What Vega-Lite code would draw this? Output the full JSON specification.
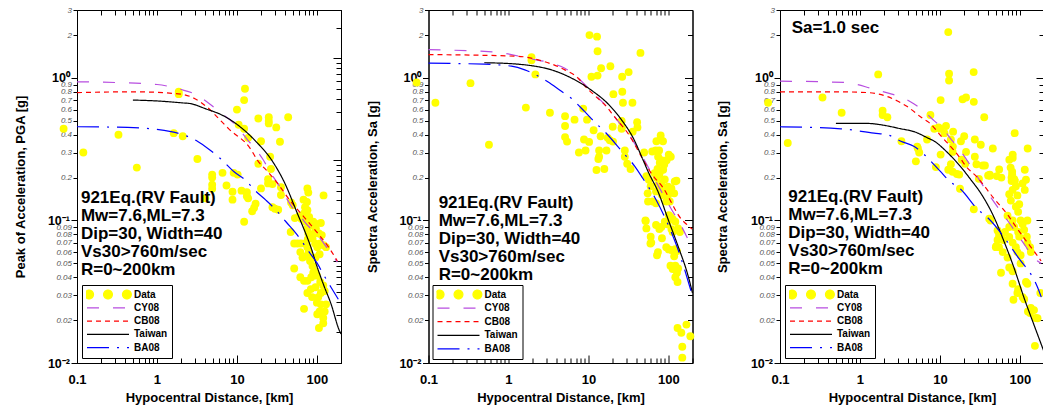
{
"$schema":"https://vega.github.io/schema/vega-lite/v6.json",
"padding":{"left":13,"top":5,"right":0,"bottom":0},
"background":"white",
"bounds":"flush",
"spacing":87.5,
"config":{"view":{"stroke":"black","strokeWidth":1},"axis":{"grid":false,"domainColor":"black","tickColor":"black","domainWidth":1,"tickWidth":1,"labelFont":"Liberation Sans","titleFont":"Liberation Sans","titleColor":"black"},"text":{"font":"Liberation Sans"},"legend":{"strokeColor":"#000000","fillColor":"#ffffff","strokeWidth":1,"padding":4,"cornerRadius":0}},
"resolve":{"scale":{"color":"independent","strokeDash":"independent"},"legend":{"color":"independent"}},
"datasets":{
"pts1":[{"x":0.068,"y":0.44},{"x":0.12,"y":0.30},{"x":0.33,"y":0.40},{"x":0.56,"y":0.235},{"x":1.87,"y":0.80},{"x":1.87,"y":0.77},{"x":1.62,"y":0.41},{"x":2.1,"y":0.39},{"x":3.2,"y":0.27},{"x":4.0,"y":0.143},{"x":4.9,"y":0.21},{"x":4.9,"y":0.2},{"x":4.9,"y":0.178},{"x":4.9,"y":0.167},{"x":6.6,"y":0.216},{"x":7.4,"y":0.176},{"x":8.8,"y":0.159},{"x":8.8,"y":0.14},{"x":9.1,"y":0.216},{"x":10.2,"y":0.21},{"x":10,"y":0.6},{"x":10.5,"y":0.47},{"x":12.3,"y":0.44},{"x":11.4,"y":0.162},{"x":12.6,"y":0.84},{"x":12.3,"y":0.70},{"x":13.3,"y":0.158},{"x":13.3,"y":0.148},{"x":13.8,"y":0.143},{"x":13.8,"y":0.38},{"x":15.5,"y":0.116},{"x":16.4,"y":0.123},{"x":17.1,"y":0.131},{"x":18.5,"y":0.52},{"x":18.5,"y":0.25},{"x":20,"y":0.36},{"x":20,"y":0.168},{"x":12.3,"y":0.098},{"x":24.5,"y":0.195},{"x":24.5,"y":0.182},{"x":25,"y":0.53},{"x":25,"y":0.5},{"x":25,"y":0.48},{"x":26,"y":0.28},{"x":26.6,"y":0.23},{"x":27.8,"y":0.18},{"x":27.8,"y":0.124},{"x":29.8,"y":0.121},{"x":31,"y":0.45},{"x":32.8,"y":0.119},{"x":34.5,"y":0.357},{"x":35.5,"y":0.171},{"x":35.5,"y":0.151},{"x":43.7,"y":0.53},{"x":47.5,"y":0.134},{"x":49.8,"y":0.128},{"x":53,"y":0.104},{"x":60,"y":0.107},{"x":64,"y":0.103},{"x":68,"y":0.14},{"x":71,"y":0.124},{"x":72,"y":0.109},{"x":75,"y":0.135},{"x":76,"y":0.168},{"x":76,"y":0.118},{"x":78,"y":0.157},{"x":80,"y":0.106},{"x":96,"y":0.095},{"x":112,"y":0.096},{"x":121,"y":0.15},{"x":121,"y":0.067},{"x":115,"y":0.079},{"x":47,"y":0.083},{"x":52,"y":0.069},{"x":63,"y":0.106},{"x":69,"y":0.112},{"x":73,"y":0.098},{"x":76,"y":0.088},{"x":78,"y":0.081},{"x":77,"y":0.074},{"x":72,"y":0.069},{"x":76,"y":0.065},{"x":79,"y":0.06},{"x":69,"y":0.056},{"x":84,"y":0.055},{"x":90,"y":0.098},{"x":97,"y":0.088},{"x":92,"y":0.081},{"x":95,"y":0.069},{"x":101,"y":0.065},{"x":96,"y":0.055},{"x":106,"y":0.081},{"x":110,"y":0.069},{"x":108,"y":0.058},{"x":63,"y":0.069},{"x":57,"y":0.069},{"x":62,"y":0.06},{"x":66,"y":0.055},{"x":52,"y":0.046},{"x":62,"y":0.04},{"x":69,"y":0.0377},{"x":76,"y":0.0377},{"x":85,"y":0.04},{"x":90,"y":0.043},{"x":95,"y":0.044},{"x":100,"y":0.041},{"x":110,"y":0.037},{"x":120,"y":0.035},{"x":125,"y":0.032},{"x":112,"y":0.031},{"x":96,"y":0.034},{"x":84,"y":0.033},{"x":76,"y":0.031},{"x":87,"y":0.029},{"x":104,"y":0.029},{"x":100,"y":0.0265},{"x":112,"y":0.0258},{"x":130,"y":0.0258},{"x":125,"y":0.023},{"x":108,"y":0.023},{"x":101,"y":0.022},{"x":120,"y":0.0207},{"x":120,"y":0.019},{"x":106,"y":0.0176},{"x":69,"y":0.024},{"x":130,"y":0.065},{"x":84,"y":0.092},{"x":88,"y":0.075},{"x":82,"y":0.052},{"x":88,"y":0.048}],
"pts2":[{"x":0.071,"y":0.93},{"x":0.122,"y":0.67},{"x":0.335,"y":0.92},{"x":0.57,"y":0.34},{"x":1.94,"y":1.4},{"x":1.94,"y":1.33},{"x":2.17,"y":1.06},{"x":1.65,"y":0.62},{"x":3.3,"y":0.57},{"x":10.3,"y":2.0},{"x":12.8,"y":1.95},{"x":13,"y":1.54},{"x":44.7,"y":1.5},{"x":14.4,"y":1.17},{"x":18.8,"y":1.21},{"x":10.9,"y":1.02},{"x":13,"y":1.04},{"x":26.4,"y":1.02},{"x":31.8,"y":1.1},{"x":20.5,"y":0.77},{"x":26.5,"y":0.8},{"x":27,"y":0.67},{"x":35.5,"y":0.67},{"x":8.6,"y":0.61},{"x":5.1,"y":0.54},{"x":5.1,"y":0.46},{"x":6.7,"y":0.51},{"x":9.6,"y":0.51},{"x":5.1,"y":0.385},{"x":5.4,"y":0.358},{"x":11.6,"y":0.43},{"x":14.2,"y":0.39},{"x":8.8,"y":0.37},{"x":10.2,"y":0.356},{"x":20.1,"y":0.455},{"x":26,"y":0.5},{"x":26,"y":0.45},{"x":26,"y":0.44},{"x":40.6,"y":0.49},{"x":41,"y":0.45},{"x":35.7,"y":0.42},{"x":17.4,"y":0.38},{"x":18.5,"y":0.366},{"x":20.3,"y":0.358},{"x":7.6,"y":0.30},{"x":9.2,"y":0.31},{"x":13.6,"y":0.31},{"x":16.8,"y":0.31},{"x":13.6,"y":0.28},{"x":13.3,"y":0.27},{"x":28.5,"y":0.31},{"x":28.5,"y":0.28},{"x":30.5,"y":0.25},{"x":33.6,"y":0.23},{"x":12.6,"y":0.226},{"x":15.8,"y":0.23},{"x":49.7,"y":0.30},{"x":62.7,"y":0.305},{"x":69.4,"y":0.31},{"x":76.5,"y":0.31},{"x":70.8,"y":0.36},{"x":80,"y":0.395},{"x":80,"y":0.37},{"x":85.5,"y":0.36},{"x":74.3,"y":0.28},{"x":81.6,"y":0.265},{"x":78,"y":0.254},{"x":101,"y":0.29},{"x":107,"y":0.28},{"x":95,"y":0.265},{"x":88.7,"y":0.247},{"x":73,"y":0.23},{"x":78,"y":0.22},{"x":86,"y":0.227},{"x":53,"y":0.205},{"x":57,"y":0.193},{"x":55,"y":0.155},{"x":60,"y":0.174},{"x":67,"y":0.215},{"x":72,"y":0.199},{"x":77,"y":0.21},{"x":81.6,"y":0.183},{"x":86,"y":0.168},{"x":90,"y":0.194},{"x":94,"y":0.163},{"x":99,"y":0.173},{"x":75,"y":0.178},{"x":70,"y":0.16},{"x":83,"y":0.151},{"x":99,"y":0.151},{"x":104,"y":0.136},{"x":109,"y":0.168},{"x":118,"y":0.155},{"x":120,"y":0.188},{"x":126,"y":0.19},{"x":55.6,"y":0.136},{"x":64,"y":0.136},{"x":70,"y":0.132},{"x":94,"y":0.136},{"x":101,"y":0.109},{"x":106,"y":0.106},{"x":113,"y":0.102},{"x":122,"y":0.098},{"x":132,"y":0.088},{"x":139,"y":0.083},{"x":90,"y":0.098},{"x":97,"y":0.094},{"x":81.6,"y":0.09},{"x":109,"y":0.087},{"x":113,"y":0.083},{"x":77,"y":0.087},{"x":70,"y":0.093},{"x":52,"y":0.099},{"x":53,"y":0.088},{"x":60,"y":0.077},{"x":61,"y":0.07},{"x":72,"y":0.057},{"x":83,"y":0.075},{"x":94,"y":0.065},{"x":101,"y":0.0627},{"x":109,"y":0.062},{"x":122,"y":0.063},{"x":128,"y":0.061},{"x":118,"y":0.0561},{"x":106,"y":0.0482},{"x":113,"y":0.0456},{"x":122,"y":0.0482},{"x":132,"y":0.046},{"x":128,"y":0.043},{"x":130,"y":0.037},{"x":122,"y":0.04},{"x":130,"y":0.0176},{"x":168,"y":0.0186},{"x":145,"y":0.0163},{"x":149,"y":0.013},{"x":149,"y":0.0109},{"x":188,"y":0.0154},{"x":51.6,"y":0.1},{"x":59.6,"y":0.069},{"x":74,"y":0.06}],
"pts3":[{"x":0.071,"y":0.67},{"x":0.125,"y":0.35},{"x":0.34,"y":0.73},{"x":0.59,"y":0.57},{"x":1.69,"y":1.06},{"x":1.92,"y":0.59},{"x":1.92,"y":0.55},{"x":2.2,"y":0.53},{"x":3.3,"y":0.36},{"x":5.2,"y":0.33},{"x":5.3,"y":0.32},{"x":5.5,"y":0.30},{"x":5.0,"y":0.26},{"x":6.9,"y":0.37},{"x":7.6,"y":0.55},{"x":8.5,"y":0.44},{"x":9.6,"y":0.45},{"x":10.1,"y":0.44},{"x":8.9,"y":0.237},{"x":10.2,"y":0.29},{"x":10.2,"y":0.70},{"x":12.7,"y":2.1},{"x":13,"y":1.07},{"x":13,"y":0.96},{"x":26.4,"y":1.1},{"x":11.9,"y":0.46},{"x":19.2,"y":0.71},{"x":21.2,"y":0.73},{"x":26.5,"y":0.68},{"x":35.8,"y":0.53},{"x":86,"y":0.41},{"x":125,"y":0.32},{"x":45.8,"y":0.32},{"x":11.4,"y":0.41},{"x":14.6,"y":0.42},{"x":13.7,"y":0.37},{"x":14.5,"y":0.33},{"x":14.4,"y":0.303},{"x":18.3,"y":0.36},{"x":20.1,"y":0.39},{"x":27.3,"y":0.37},{"x":32.4,"y":0.34},{"x":21.2,"y":0.303},{"x":27.3,"y":0.28},{"x":20.7,"y":0.25},{"x":18.7,"y":0.267},{"x":13.7,"y":0.248},{"x":12.7,"y":0.227},{"x":14.4,"y":0.22},{"x":16.3,"y":0.212},{"x":17.4,"y":0.21},{"x":28.6,"y":0.248},{"x":34.3,"y":0.243},{"x":36.5,"y":0.243},{"x":42.3,"y":0.206},{"x":51.4,"y":0.205},{"x":55,"y":0.228},{"x":73.7,"y":0.267},{"x":81.2,"y":0.29},{"x":81.2,"y":0.275},{"x":76.5,"y":0.235},{"x":80,"y":0.22},{"x":80,"y":0.21},{"x":115,"y":0.227},{"x":58.6,"y":0.2},{"x":78.6,"y":0.2},{"x":86.4,"y":0.19},{"x":17.8,"y":0.167},{"x":26.5,"y":0.12},{"x":41.3,"y":0.103},{"x":78.7,"y":0.189},{"x":85,"y":0.195},{"x":89,"y":0.174},{"x":73.5,"y":0.153},{"x":81,"y":0.164},{"x":93,"y":0.15},{"x":77,"y":0.138},{"x":89,"y":0.125},{"x":98,"y":0.13},{"x":108,"y":0.182},{"x":115,"y":0.164},{"x":119,"y":0.193},{"x":95,"y":0.115},{"x":102,"y":0.1},{"x":81,"y":0.1},{"x":70,"y":0.108},{"x":73.5,"y":0.09},{"x":85,"y":0.09},{"x":95,"y":0.083},{"x":98,"y":0.077},{"x":113,"y":0.086},{"x":122,"y":0.077},{"x":108,"y":0.094},{"x":124,"y":0.1},{"x":134,"y":0.065},{"x":137,"y":0.06},{"x":124,"y":0.07},{"x":89,"y":0.065},{"x":81,"y":0.07},{"x":73.5,"y":0.0766},{"x":65,"y":0.083},{"x":58,"y":0.077},{"x":50,"y":0.065},{"x":52.5,"y":0.073},{"x":61,"y":0.06},{"x":70,"y":0.055},{"x":73.5,"y":0.0468},{"x":81,"y":0.044},{"x":93,"y":0.06},{"x":102,"y":0.057},{"x":102,"y":0.05},{"x":119,"y":0.037},{"x":124,"y":0.036},{"x":93,"y":0.031},{"x":108,"y":0.029},{"x":113,"y":0.028},{"x":137,"y":0.0243},{"x":150,"y":0.0235},{"x":158,"y":0.0207},{"x":134,"y":0.0224},{"x":154,"y":0.0132},{"x":95,"y":0.033},{"x":55,"y":0.076},{"x":83,"y":0.0278},{"x":126,"y":0.023},{"x":180,"y":0.031},{"x":166,"y":0.0206},{"x":58,"y":0.043},{"x":81,"y":0.036},{"x":50.6,"y":0.066},{"x":54.7,"y":0.065},{"x":43,"y":0.1},{"x":52.5,"y":0.085},{"x":55,"y":0.08},{"x":62,"y":0.073},{"x":40,"y":0.207},{"x":42,"y":0.21},{"x":30.7,"y":0.196}],
"cur1":[{"model":"CY08","x":0.1,"y":0.94},{"model":"CY08","x":0.3,"y":0.93},{"model":"CY08","x":1,"y":0.9},{"model":"CY08","x":2,"y":0.83},{"model":"CY08","x":3,"y":0.77},{"model":"CY08","x":4.7,"y":0.65},{"model":"CY08","x":6,"y":0.58},{"model":"CY08","x":8.8,"y":0.49},{"model":"CY08","x":13.5,"y":0.37},{"model":"CY08","x":21,"y":0.27},{"model":"CY08","x":26.6,"y":0.215},{"model":"CY08","x":35,"y":0.17},{"model":"CY08","x":50,"y":0.122},{"model":"CY08","x":60,"y":0.109},{"model":"CY08","x":80,"y":0.09},{"model":"CY08","x":100,"y":0.08},{"model":"CY08","x":140,"y":0.062},{"model":"CY08","x":180,"y":0.051},
{"model":"CB08","x":0.1,"y":0.79},{"model":"CB08","x":0.52,"y":0.8},{"model":"CB08","x":2,"y":0.77},{"model":"CB08","x":4.3,"y":0.62},{"model":"CB08","x":6.3,"y":0.5},{"model":"CB08","x":7.9,"y":0.44},{"model":"CB08","x":14.9,"y":0.316},{"model":"CB08","x":18,"y":0.265},{"model":"CB08","x":24.3,"y":0.22},{"model":"CB08","x":32,"y":0.183},{"model":"CB08","x":47.5,"y":0.135},{"model":"CB08","x":63,"y":0.112},{"model":"CB08","x":96,"y":0.085},{"model":"CB08","x":140,"y":0.065},{"model":"CB08","x":180,"y":0.052},
{"model":"Taiwan","x":0.5,"y":0.70},{"model":"Taiwan","x":1,"y":0.69},{"model":"Taiwan","x":2,"y":0.67},{"model":"Taiwan","x":2.66,"y":0.66},{"model":"Taiwan","x":4,"y":0.61},{"model":"Taiwan","x":6.9,"y":0.54},{"model":"Taiwan","x":11.2,"y":0.45},{"model":"Taiwan","x":18,"y":0.35},{"model":"Taiwan","x":26.6,"y":0.27},{"model":"Taiwan","x":39.6,"y":0.183},{"model":"Taiwan","x":57,"y":0.112},{"model":"Taiwan","x":70,"y":0.085},{"model":"Taiwan","x":84,"y":0.065},{"model":"Taiwan","x":101,"y":0.047},{"model":"Taiwan","x":122,"y":0.035},{"model":"Taiwan","x":150,"y":0.026},{"model":"Taiwan","x":190,"y":0.017},{"model":"Taiwan","x":200,"y":0.016},
{"model":"BA08","x":0.1,"y":0.455},{"model":"BA08","x":0.43,"y":0.45},{"model":"BA08","x":1.5,"y":0.42},{"model":"BA08","x":3.2,"y":0.36},{"model":"BA08","x":4.5,"y":0.315},{"model":"BA08","x":6.3,"y":0.27},{"model":"BA08","x":9.2,"y":0.22},{"model":"BA08","x":13,"y":0.19},{"model":"BA08","x":17.3,"y":0.16},{"model":"BA08","x":23,"y":0.139},{"model":"BA08","x":31,"y":0.118},{"model":"BA08","x":41,"y":0.098},{"model":"BA08","x":57,"y":0.079},{"model":"BA08","x":80,"y":0.06},{"model":"BA08","x":101,"y":0.05},{"model":"BA08","x":123,"y":0.041},{"model":"BA08","x":150,"y":0.034},{"model":"BA08","x":185,"y":0.028}],
"cur2":[{"model":"CY08","x":0.1,"y":1.58},{"model":"CY08","x":0.67,"y":1.52},{"model":"CY08","x":1.94,"y":1.36},{"model":"CY08","x":3.45,"y":1.27},{"model":"CY08","x":5.06,"y":1.17},{"model":"CY08","x":7.4,"y":1.0},{"model":"CY08","x":9,"y":0.9},{"model":"CY08","x":13.1,"y":0.73},{"model":"CY08","x":16.8,"y":0.63},{"model":"CY08","x":20.3,"y":0.55},{"model":"CY08","x":32.8,"y":0.39},{"model":"CY08","x":41.5,"y":0.32},{"model":"CY08","x":53,"y":0.25},{"model":"CY08","x":69,"y":0.19},{"model":"CY08","x":109,"y":0.12},{"model":"CY08","x":132,"y":0.1},{"model":"CY08","x":150,"y":0.088},{"model":"CY08","x":195,"y":0.065},
{"model":"CB08","x":0.1,"y":1.46},{"model":"CB08","x":1.32,"y":1.42},{"model":"CB08","x":2.35,"y":1.34},{"model":"CB08","x":5.06,"y":1.14},{"model":"CB08","x":7.4,"y":1.0},{"model":"CB08","x":9,"y":0.88},{"model":"CB08","x":13.1,"y":0.72},{"model":"CB08","x":16.8,"y":0.63},{"model":"CB08","x":20.3,"y":0.55},{"model":"CB08","x":34,"y":0.38},{"model":"CB08","x":46,"y":0.28},{"model":"CB08","x":62.5,"y":0.21},{"model":"CB08","x":85.6,"y":0.17},{"model":"CB08","x":118,"y":0.123},{"model":"CB08","x":132,"y":0.11},{"model":"CB08","x":176,"y":0.092},{"model":"CB08","x":198,"y":0.087},
{"model":"Taiwan","x":0.5,"y":1.28},{"model":"Taiwan","x":1.32,"y":1.25},{"model":"Taiwan","x":1.94,"y":1.22},{"model":"Taiwan","x":3.45,"y":1.14},{"model":"Taiwan","x":6.1,"y":1.0},{"model":"Taiwan","x":10.9,"y":0.82},{"model":"Taiwan","x":17.5,"y":0.66},{"model":"Taiwan","x":25.8,"y":0.51},{"model":"Taiwan","x":36.2,"y":0.38},{"model":"Taiwan","x":48.3,"y":0.265},{"model":"Taiwan","x":55.8,"y":0.22},{"model":"Taiwan","x":74.6,"y":0.158},{"model":"Taiwan","x":99,"y":0.102},{"model":"Taiwan","x":132,"y":0.066},{"model":"Taiwan","x":176,"y":0.041},{"model":"Taiwan","x":200,"y":0.031},
{"model":"BA08","x":0.1,"y":1.27},{"model":"BA08","x":0.5,"y":1.25},{"model":"BA08","x":1.09,"y":1.21},{"model":"BA08","x":1.6,"y":1.14},{"model":"BA08","x":3.1,"y":0.94},{"model":"BA08","x":4.4,"y":0.82},{"model":"BA08","x":6.1,"y":0.72},{"model":"BA08","x":9,"y":0.58},{"model":"BA08","x":12,"y":0.49},{"model":"BA08","x":16,"y":0.42},{"model":"BA08","x":27,"y":0.3},{"model":"BA08","x":38,"y":0.24},{"model":"BA08","x":48,"y":0.197},{"model":"BA08","x":70,"y":0.14},{"model":"BA08","x":94,"y":0.1},{"model":"BA08","x":130,"y":0.064},{"model":"BA08","x":195,"y":0.031}],
"cur3":[{"model":"CY08","x":0.1,"y":0.95},{"model":"CY08","x":0.64,"y":0.93},{"model":"CY08","x":1.44,"y":0.84},{"model":"CY08","x":2.5,"y":0.77},{"model":"CY08","x":3.2,"y":0.74},{"model":"CY08","x":4.7,"y":0.66},{"model":"CY08","x":6.2,"y":0.59},{"model":"CY08","x":8.5,"y":0.5},{"model":"CY08","x":10.5,"y":0.45},{"model":"CY08","x":14.4,"y":0.36},{"model":"CY08","x":17.9,"y":0.31},{"model":"CY08","x":23.3,"y":0.25},{"model":"CY08","x":28.2,"y":0.21},{"model":"CY08","x":43.3,"y":0.145},{"model":"CY08","x":70,"y":0.1},{"model":"CY08","x":102,"y":0.074},{"model":"CY08","x":166,"y":0.052},{"model":"CY08","x":184,"y":0.05},
{"model":"CB08","x":0.1,"y":0.8},{"model":"CB08","x":0.48,"y":0.8},{"model":"CB08","x":1.25,"y":0.79},{"model":"CB08","x":2.2,"y":0.74},{"model":"CB08","x":3.25,"y":0.67},{"model":"CB08","x":3.9,"y":0.63},{"model":"CB08","x":6.1,"y":0.52},{"model":"CB08","x":7.2,"y":0.49},{"model":"CB08","x":10.8,"y":0.38},{"model":"CB08","x":12.4,"y":0.35},{"model":"CB08","x":17.4,"y":0.28},{"model":"CB08","x":21.2,"y":0.24},{"model":"CB08","x":29.5,"y":0.2},{"model":"CB08","x":47.6,"y":0.142},{"model":"CB08","x":70,"y":0.11},{"model":"CB08","x":85,"y":0.094},{"model":"CB08","x":124,"y":0.07},{"model":"CB08","x":150,"y":0.061},{"model":"CB08","x":184,"y":0.052},
{"model":"Taiwan","x":0.5,"y":0.48},{"model":"Taiwan","x":1.25,"y":0.48},{"model":"Taiwan","x":1.8,"y":0.47},{"model":"Taiwan","x":3.25,"y":0.44},{"model":"Taiwan","x":4.77,"y":0.42},{"model":"Taiwan","x":7,"y":0.38},{"model":"Taiwan","x":8.5,"y":0.36},{"model":"Taiwan","x":12.4,"y":0.3},{"model":"Taiwan","x":18.3,"y":0.237},{"model":"Taiwan","x":24.4,"y":0.193},{"model":"Taiwan","x":32.5,"y":0.155},{"model":"Taiwan","x":47.6,"y":0.105},{"model":"Taiwan","x":64.1,"y":0.07},{"model":"Taiwan","x":85,"y":0.046},{"model":"Taiwan","x":113,"y":0.0285},{"model":"Taiwan","x":150,"y":0.0185},{"model":"Taiwan","x":200,"y":0.012},
{"model":"BA08","x":0.1,"y":0.455},{"model":"BA08","x":0.58,"y":0.44},{"model":"BA08","x":1.5,"y":0.41},{"model":"BA08","x":2.2,"y":0.4},{"model":"BA08","x":3.25,"y":0.36},{"model":"BA08","x":4.77,"y":0.33},{"model":"BA08","x":10.2,"y":0.22},{"model":"BA08","x":13,"y":0.19},{"model":"BA08","x":18.3,"y":0.165},{"model":"BA08","x":29.5,"y":0.12},{"model":"BA08","x":39.3,"y":0.105},{"model":"BA08","x":93,"y":0.056},{"model":"BA08","x":166,"y":0.034},{"model":"BA08","x":185,"y":0.029}],
"txt1":[{"x":0.112,"y":0.144,"t":"921Eq.(RV Fault)"},{"x":0.112,"y":0.1075,"t":"Mw=7.6,ML=7.3"},{"x":0.112,"y":0.0805,"t":"Dip=30, Width=40"},{"x":0.112,"y":0.0602,"t":"Vs30>760m/sec"},{"x":0.112,"y":0.045,"t":"R=0~200km"}],
"txt2":[{"x":0.134,"y":0.132,"t":"921Eq.(RV Fault)"},{"x":0.134,"y":0.0988,"t":"Mw=7.6,ML=7.3"},{"x":0.134,"y":0.0739,"t":"Dip=30, Width=40"},{"x":0.134,"y":0.0553,"t":"Vs30>760m/sec"},{"x":0.134,"y":0.0414,"t":"R=0~200km"}],
"txt3":[{"x":0.127,"y":0.147,"t":"921Eq.(RV Fault)"},{"x":0.127,"y":0.11,"t":"Mw=7.6,ML=7.3"},{"x":0.127,"y":0.0818,"t":"Dip=30, Width=40"},{"x":0.127,"y":0.0611,"t":"Vs30>760m/sec"},{"x":0.127,"y":0.0455,"t":"R=0~200km"},{"x":0.14,"y":2.26,"t":"Sa=1.0 sec"}]
},
"hconcat":[
{"width":264,"height":353,
 "resolve":{"scale":{"x":"independent","y":"independent"},"axis":{"x":"independent","y":"independent"}},
 "layer":[
  {"data":{"name":"pts1"},"mark":{"type":"circle","size":62,"opacity":1},
   "encoding":{
    "x":{"field":"x","type":"quantitative","scale":{"type":"log","domain":[0.1,200],"nice":false},
      "axis":{"orient":"bottom","values":[0.1,0.2,0.3,0.4,0.5,0.6,0.7,0.8,0.9,1,2,3,4,5,6,7,8,9,10,20,30,40,50,60,70,80,90,100,200],"labelExpr":"datum.value==0.1?'0.1':datum.value==1?'1':datum.value==10?'10':datum.value==100?'100':''","labelFontSize":13,"labelFontWeight":"bold","labelColor":"black","labelPadding":18,"labelOverlap":false,"labelFlush":false,"tickSize":{"condition":{"test":"datum.value==0.1||datum.value==1||datum.value==10||datum.value==100","value":-8},"value":-5},"title":"Hypocentral Distance, [km]","titleFontSize":13,"titleFontWeight":"bold","titlePadding":2}},
    "y":{"field":"y","type":"quantitative","scale":{"type":"log","domain":[0.01,3],"nice":false},
      "axis":{"orient":"left","values":[0.01,0.02,0.03,0.04,0.05,0.06,0.07,0.08,0.09,0.1,0.2,0.3,0.4,0.5,0.6,0.7,0.8,0.9,1,2,3],"labelExpr":"datum.value==0.01?'10⁻²':datum.value==0.1?'10⁻¹':datum.value==1?'10⁰':format(datum.value,'~g')","labelOverlap":false,"labelFlush":false,"labelPadding":1.5,
       "labelFontSize":{"condition":{"test":"datum.value==0.01||datum.value==0.1||datum.value==1","value":12.5},"value":8},
       "labelFontStyle":{"condition":{"test":"datum.value==0.01||datum.value==0.1||datum.value==1","value":"normal"},"value":"italic"},
       "labelFontWeight":{"condition":{"test":"datum.value==0.01||datum.value==0.1||datum.value==1","value":"bold"},"value":"normal"},
       "labelColor":{"condition":{"test":"datum.value==0.01||datum.value==0.1||datum.value==1","value":"#000000"},"value":"#555555"},
       "tickSize":{"condition":{"test":"datum.value==0.01||datum.value==0.1||datum.value==1","value":6},"value":4},
       "title":"Peak of Acceleration, PGA [g]","titleFontSize":13,"titleFontWeight":"bold","titleX":-50}},
    "color":{"datum":"Data","type":"nominal","scale":{"domain":["Data","CY08","CB08","Taiwan","BA08"],"range":["#ffff00","#b84ee0","#ff0000","#000000","#0000ff"]}}
   }},
  {"data":{"name":"cur1"},"mark":{"type":"line","strokeWidth":1.2,"interpolate":"monotone"},
   "encoding":{
    "x":{"field":"x","type":"quantitative","scale":{"type":"log","domain":[0.1,200],"nice":false},"axis":{"orient":"top","values":[0.2,0.3,0.4,0.5,0.6,0.7,0.8,0.9,1,2,3,4,5,6,7,8,9,10,20,30,40,50,60,70,80,90,100],"labels":false,"tickSize":-5,"title":null}},
    "y":{"field":"y","type":"quantitative","scale":{"type":"log","domain":[0.01,3],"nice":false},"axis":null},
    "color":{"field":"model","type":"nominal","scale":{"domain":["Data","CY08","CB08","Taiwan","BA08"],"range":["#ffff00","#b84ee0","#ff0000","#000000","#0000ff"]},
      "legend":{"orient":"bottom-left","offset":5,"title":null,"padding":4,"strokeColor":"black","fillColor":"white","symbolSize":1764,"clipHeight":11,"rowPadding":2.3,"labelFont":"Liberation Sans","labelFontSize":10,"labelFontWeight":"bold","labelColor":"black","labelOffset":4,"symbolStrokeWidth":1.2,
       "encode":{"legend":{"update":{"stroke":{"value":"#000000"},"strokeWidth":{"value":1},"fill":{"value":"#ffffff"}}},
        "symbols":{"update":{
        "shape":[{"test":"datum.value === 'Data'","value":"M-1.11,0A0.21,0.21,0,1,0,-0.69,0A0.21,0.21,0,1,0,-1.11,0Z M-0.21,0A0.21,0.21,0,1,0,0.21,0A0.21,0.21,0,1,0,-0.21,0Z M0.69,0A0.21,0.21,0,1,0,1.11,0A0.21,0.21,0,1,0,0.69,0Z"},{"value":"stroke"}],
        "fill":[{"test":"datum.value === 'Data'","value":"#ffff00"},{"value":"transparent"}],
        "stroke":[{"test":"datum.value === 'CY08'","value":"#b84ee0"},{"test":"datum.value === 'CB08'","value":"#ff0000"},{"test":"datum.value === 'BA08'","value":"#0000ff"},{"test":"datum.value === 'Data'","value":"transparent"},{"value":"#000000"}],
        "strokeDash":[{"test":"datum.value === 'CY08'","value":[12,14]},{"test":"datum.value === 'CB08'","value":[5,4]},{"test":"datum.value === 'BA08'","value":[22,8,2,8]},{"value":[1,0]}],
        "strokeWidth":{"value":1.2},
        "size":{"value":1764},
        "opacity":{"value":1}}}}}},
    "strokeDash":{"field":"model","type":"nominal","scale":{"domain":["CY08","CB08","Taiwan","BA08"],"range":[[12,14],[5,4],[1,0],[22,8,2,8]]},"legend":null}
   }},
  {"data":{"name":"txt1"},"mark":{"type":"text","align":"left","baseline":"middle","fontSize":17,"fontWeight":"bold","font":"Liberation Sans","color":"black"},
   "encoding":{"x":{"field":"x","type":"quantitative","scale":{"type":"log","domain":[0.1,200],"nice":false},"axis":null},"y":{"field":"y","type":"quantitative","scale":{"type":"log","domain":[0.01,3],"nice":false},"axis":null},"text":{"field":"t"}}},
  {"data":{"name":"pts1"},"mark":{"type":"point","opacity":0},
   "encoding":{"x":{"field":"x","type":"quantitative","scale":{"type":"log","domain":[0.1,200],"nice":false},"axis":null},
    "y":{"field":"y","type":"quantitative","scale":{"type":"log","domain":[0.01,30],"nice":false},"axis":{"orient":"right","values":[0.01,0.02,0.03,0.04,0.05,0.06,0.07,0.08,0.09,0.1,0.2,0.3,0.4,0.5,0.6,0.7,0.8,0.9,1,2,3,4,5,6,7,8,9,10,20,30],"labels":false,"title":null,"tickSize":{"condition":{"test":"datum.value==0.01||datum.value==0.1||datum.value==1||datum.value==10","value":-8},"value":-5}}}}}
 ]},
{"width":264,"height":353,
 "resolve":{"scale":{"x":"independent","y":"independent"},"axis":{"x":"independent","y":"independent"}},
 "layer":[
  {"data":{"name":"pts2"},"mark":{"type":"circle","size":62,"opacity":1},
   "encoding":{
    "x":{"field":"x","type":"quantitative","scale":{"type":"log","domain":[0.1,200],"nice":false},
      "axis":{"orient":"bottom","values":[0.1,0.2,0.3,0.4,0.5,0.6,0.7,0.8,0.9,1,2,3,4,5,6,7,8,9,10,20,30,40,50,60,70,80,90,100,200],"labelExpr":"datum.value==0.1?'0.1':datum.value==1?'1':datum.value==10?'10':datum.value==100?'100':''","labelFontSize":13,"labelFontWeight":"bold","labelColor":"black","labelPadding":18,"labelOverlap":false,"labelFlush":false,"tickSize":{"condition":{"test":"datum.value==0.1||datum.value==1||datum.value==10||datum.value==100","value":-8},"value":-5},"title":"Hypocentral Distance, [km]","titleFontSize":13,"titleFontWeight":"bold","titlePadding":2}},
    "y":{"field":"y","type":"quantitative","scale":{"type":"log","domain":[0.01,3],"nice":false},
      "axis":{"orient":"left","values":[0.01,0.02,0.03,0.04,0.05,0.06,0.07,0.08,0.09,0.1,0.2,0.3,0.4,0.5,0.6,0.7,0.8,0.9,1,2,3],"labelExpr":"datum.value==0.01?'10⁻²':datum.value==0.1?'10⁻¹':datum.value==1?'10⁰':format(datum.value,'~g')","labelOverlap":false,"labelFlush":false,"labelPadding":1.5,
       "labelFontSize":{"condition":{"test":"datum.value==0.01||datum.value==0.1||datum.value==1","value":12.5},"value":8},
       "labelFontStyle":{"condition":{"test":"datum.value==0.01||datum.value==0.1||datum.value==1","value":"normal"},"value":"italic"},
       "labelFontWeight":{"condition":{"test":"datum.value==0.01||datum.value==0.1||datum.value==1","value":"bold"},"value":"normal"},
       "labelColor":{"condition":{"test":"datum.value==0.01||datum.value==0.1||datum.value==1","value":"#000000"},"value":"#555555"},
       "tickSize":{"condition":{"test":"datum.value==0.01||datum.value==0.1||datum.value==1","value":6},"value":4},
       "title":"Spectra Acceleration, Sa [g]","titleFontSize":13,"titleFontWeight":"bold","titleX":-49}},
    "color":{"datum":"Data","type":"nominal","scale":{"domain":["Data","CY08","CB08","Taiwan","BA08"],"range":["#ffff00","#b84ee0","#ff0000","#000000","#0000ff"]}}
   }},
  {"data":{"name":"cur2"},"mark":{"type":"line","strokeWidth":1.2,"interpolate":"monotone"},
   "encoding":{
    "x":{"field":"x","type":"quantitative","scale":{"type":"log","domain":[0.1,200],"nice":false},"axis":{"orient":"top","values":[0.2,0.3,0.4,0.5,0.6,0.7,0.8,0.9,1,2,3,4,5,6,7,8,9,10,20,30,40,50,60,70,80,90,100],"labels":false,"tickSize":-5,"title":null}},
    "y":{"field":"y","type":"quantitative","scale":{"type":"log","domain":[0.01,3],"nice":false},"axis":{"orient":"right","values":[0.01,0.02,0.03,0.04,0.05,0.06,0.07,0.08,0.09,0.1,0.2,0.3,0.4,0.5,0.6,0.7,0.8,0.9,1,2,3],"labels":false,"title":null,"tickSize":{"condition":{"test":"datum.value==0.01||datum.value==0.1||datum.value==1","value":-8},"value":-5}}},
    "color":{"field":"model","type":"nominal","scale":{"domain":["Data","CY08","CB08","Taiwan","BA08"],"range":["#ffff00","#b84ee0","#ff0000","#000000","#0000ff"]},
      "legend":{"orient":"bottom-left","offset":4,"title":null,"padding":4,"strokeColor":"black","fillColor":"white","symbolSize":1764,"clipHeight":11,"rowPadding":2.6,"labelFont":"Liberation Sans","labelFontSize":10,"labelFontWeight":"bold","labelColor":"black","labelOffset":4,"symbolStrokeWidth":1.2,
       "encode":{"legend":{"update":{"stroke":{"value":"#000000"},"strokeWidth":{"value":1},"fill":{"value":"#ffffff"}}},
        "symbols":{"update":{
        "shape":[{"test":"datum.value === 'Data'","value":"M-1.11,0A0.21,0.21,0,1,0,-0.69,0A0.21,0.21,0,1,0,-1.11,0Z M-0.21,0A0.21,0.21,0,1,0,0.21,0A0.21,0.21,0,1,0,-0.21,0Z M0.69,0A0.21,0.21,0,1,0,1.11,0A0.21,0.21,0,1,0,0.69,0Z"},{"value":"stroke"}],
        "fill":[{"test":"datum.value === 'Data'","value":"#ffff00"},{"value":"transparent"}],
        "stroke":[{"test":"datum.value === 'CY08'","value":"#b84ee0"},{"test":"datum.value === 'CB08'","value":"#ff0000"},{"test":"datum.value === 'BA08'","value":"#0000ff"},{"test":"datum.value === 'Data'","value":"transparent"},{"value":"#000000"}],
        "strokeDash":[{"test":"datum.value === 'CY08'","value":[12,14]},{"test":"datum.value === 'CB08'","value":[5,4]},{"test":"datum.value === 'BA08'","value":[22,8,2,8]},{"value":[1,0]}],
        "strokeWidth":{"value":1.2},
        "size":{"value":1764},
        "opacity":{"value":1}}}}}},
    "strokeDash":{"field":"model","type":"nominal","scale":{"domain":["CY08","CB08","Taiwan","BA08"],"range":[[12,14],[5,4],[1,0],[22,8,2,8]]},"legend":null}
   }},
  {"data":{"name":"txt2"},"mark":{"type":"text","align":"left","baseline":"middle","fontSize":17,"fontWeight":"bold","font":"Liberation Sans","color":"black"},
   "encoding":{"x":{"field":"x","type":"quantitative","scale":{"type":"log","domain":[0.1,200],"nice":false},"axis":null},"y":{"field":"y","type":"quantitative","scale":{"type":"log","domain":[0.01,3],"nice":false},"axis":null},"text":{"field":"t"}}}
 ]},
{"width":264,"height":353,
 "resolve":{"scale":{"x":"independent","y":"independent"},"axis":{"x":"independent","y":"independent"}},
 "layer":[
  {"data":{"name":"pts3"},"mark":{"type":"circle","size":62,"opacity":1},
   "encoding":{
    "x":{"field":"x","type":"quantitative","scale":{"type":"log","domain":[0.1,200],"nice":false},
      "axis":{"orient":"bottom","values":[0.1,0.2,0.3,0.4,0.5,0.6,0.7,0.8,0.9,1,2,3,4,5,6,7,8,9,10,20,30,40,50,60,70,80,90,100,200],"labelExpr":"datum.value==0.1?'0.1':datum.value==1?'1':datum.value==10?'10':datum.value==100?'100':''","labelFontSize":13,"labelFontWeight":"bold","labelColor":"black","labelPadding":18,"labelOverlap":false,"labelFlush":false,"tickSize":{"condition":{"test":"datum.value==0.1||datum.value==1||datum.value==10||datum.value==100","value":-8},"value":-5},"title":"Hypocentral Distance, [km]","titleFontSize":13,"titleFontWeight":"bold","titlePadding":2}},
    "y":{"field":"y","type":"quantitative","scale":{"type":"log","domain":[0.01,3],"nice":false},
      "axis":{"orient":"left","values":[0.01,0.02,0.03,0.04,0.05,0.06,0.07,0.08,0.09,0.1,0.2,0.3,0.4,0.5,0.6,0.7,0.8,0.9,1,2,3],"labelExpr":"datum.value==0.01?'10⁻²':datum.value==0.1?'10⁻¹':datum.value==1?'10⁰':format(datum.value,'~g')","labelOverlap":false,"labelFlush":false,"labelPadding":1.5,
       "labelFontSize":{"condition":{"test":"datum.value==0.01||datum.value==0.1||datum.value==1","value":12.5},"value":8},
       "labelFontStyle":{"condition":{"test":"datum.value==0.01||datum.value==0.1||datum.value==1","value":"normal"},"value":"italic"},
       "labelFontWeight":{"condition":{"test":"datum.value==0.01||datum.value==0.1||datum.value==1","value":"bold"},"value":"normal"},
       "labelColor":{"condition":{"test":"datum.value==0.01||datum.value==0.1||datum.value==1","value":"#000000"},"value":"#555555"},
       "tickSize":{"condition":{"test":"datum.value==0.01||datum.value==0.1||datum.value==1","value":6},"value":4},
       "title":"Spectra Acceleration, Sa [g]","titleFontSize":13,"titleFontWeight":"bold","titleX":-51}},
    "color":{"datum":"Data","type":"nominal","scale":{"domain":["Data","CY08","CB08","Taiwan","BA08"],"range":["#ffff00","#b84ee0","#ff0000","#000000","#0000ff"]}}
   }},
  {"data":{"name":"cur3"},"mark":{"type":"line","strokeWidth":1.2,"interpolate":"monotone"},
   "encoding":{
    "x":{"field":"x","type":"quantitative","scale":{"type":"log","domain":[0.1,200],"nice":false},"axis":{"orient":"top","values":[0.2,0.3,0.4,0.5,0.6,0.7,0.8,0.9,1,2,3,4,5,6,7,8,9,10,20,30,40,50,60,70,80,90,100],"labels":false,"tickSize":-5,"title":null}},
    "y":{"field":"y","type":"quantitative","scale":{"type":"log","domain":[0.01,3],"nice":false},"axis":{"orient":"right","values":[0.01,0.02,0.03,0.04,0.05,0.06,0.07,0.08,0.09,0.1,0.2,0.3,0.4,0.5,0.6,0.7,0.8,0.9,1,2,3],"labels":false,"title":null,"tickSize":{"condition":{"test":"datum.value==0.01||datum.value==0.1||datum.value==1","value":-8},"value":-5}}},
    "color":{"field":"model","type":"nominal","scale":{"domain":["Data","CY08","CB08","Taiwan","BA08"],"range":["#ffff00","#b84ee0","#ff0000","#000000","#0000ff"]},
      "legend":{"orient":"bottom-left","offset":5,"title":null,"padding":4,"strokeColor":"black","fillColor":"white","symbolSize":1764,"clipHeight":11,"rowPadding":2.3,"labelFont":"Liberation Sans","labelFontSize":10,"labelFontWeight":"bold","labelColor":"black","labelOffset":4,"symbolStrokeWidth":1.2,
       "encode":{"legend":{"update":{"stroke":{"value":"#000000"},"strokeWidth":{"value":1},"fill":{"value":"#ffffff"}}},
        "symbols":{"update":{
        "shape":[{"test":"datum.value === 'Data'","value":"M-1.11,0A0.21,0.21,0,1,0,-0.69,0A0.21,0.21,0,1,0,-1.11,0Z M-0.21,0A0.21,0.21,0,1,0,0.21,0A0.21,0.21,0,1,0,-0.21,0Z M0.69,0A0.21,0.21,0,1,0,1.11,0A0.21,0.21,0,1,0,0.69,0Z"},{"value":"stroke"}],
        "fill":[{"test":"datum.value === 'Data'","value":"#ffff00"},{"value":"transparent"}],
        "stroke":[{"test":"datum.value === 'CY08'","value":"#b84ee0"},{"test":"datum.value === 'CB08'","value":"#ff0000"},{"test":"datum.value === 'BA08'","value":"#0000ff"},{"test":"datum.value === 'Data'","value":"transparent"},{"value":"#000000"}],
        "strokeDash":[{"test":"datum.value === 'CY08'","value":[12,14]},{"test":"datum.value === 'CB08'","value":[5,4]},{"test":"datum.value === 'BA08'","value":[22,8,2,8]},{"value":[1,0]}],
        "strokeWidth":{"value":1.2},
        "size":{"value":1764},
        "opacity":{"value":1}}}}}},
    "strokeDash":{"field":"model","type":"nominal","scale":{"domain":["CY08","CB08","Taiwan","BA08"],"range":[[12,14],[5,4],[1,0],[22,8,2,8]]},"legend":null}
   }},
  {"data":{"name":"txt3"},"mark":{"type":"text","align":"left","baseline":"middle","fontSize":17,"fontWeight":"bold","font":"Liberation Sans","color":"black"},
   "encoding":{"x":{"field":"x","type":"quantitative","scale":{"type":"log","domain":[0.1,200],"nice":false},"axis":null},"y":{"field":"y","type":"quantitative","scale":{"type":"log","domain":[0.01,3],"nice":false},"axis":null},"text":{"field":"t"}}}
 ]}
]
}
